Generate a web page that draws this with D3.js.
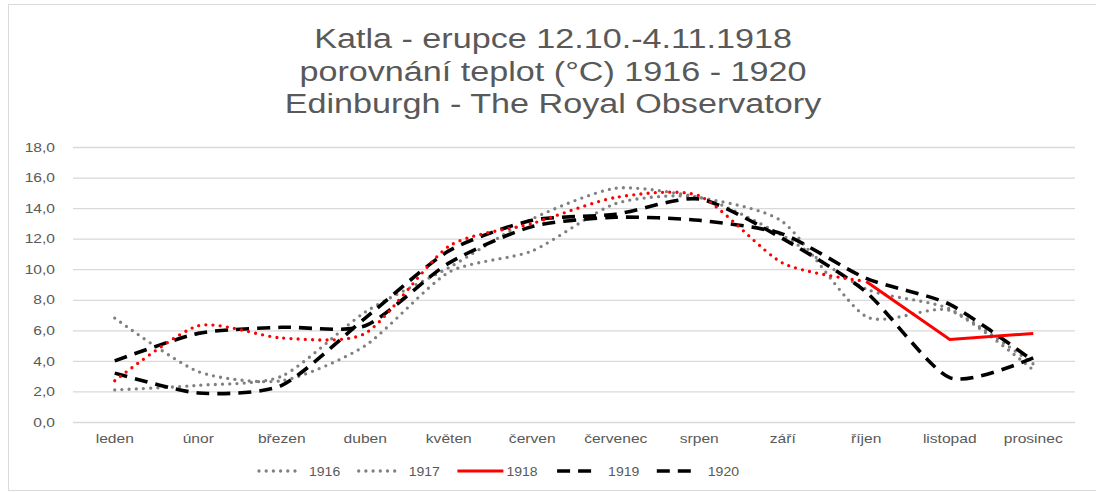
<!DOCTYPE html>
<html>
<head>
<meta charset="utf-8">
<script src="https://cdn.jsdelivr.net/npm/d3@7"></script>
<style>
  body { margin: 0; background: #fff; }
  svg { display: block; }
  text { font-family: "Liberation Sans", Arial, sans-serif; fill: #595959; }
</style>
</head>
<body>
<svg id="chart" width="1096" height="492"></svg>
<script>
const months = ["leden", "únor", "březen", "duben", "květen", "červen", "červenec", "srpen", "září", "říjen", "listopad", "prosinec"];
const t1916 = [6.8, 3.3, 2.7, 5.0, 9.8, 11.2, 14.3, 14.7, 12.2, 8.7, 7.4, 3.8];
const t1917 = [2.1, 2.4, 3.0, 7.2, 10.1, 13.3, 15.3, 14.7, 13.1, 6.9, 7.3, 3.4];
const t1918 = [2.7, 6.3, 5.5, 5.8, 11.5, 13.0, 14.7, 14.8, 10.4, 9.2, 5.4, 5.8];
const t1919 = [4.0, 5.8, 6.2, 6.3, 10.4, 12.8, 13.4, 13.2, 12.3, 9.4, 7.7, 4.0];
const t1920 = [3.2, 1.9, 2.4, 6.8, 11.2, 13.2, 13.6, 14.6, 12.0, 8.5, 2.9, 4.2];
const yTicks = [0, 2, 4, 6, 8, 10, 12, 14, 16, 18];
const titleLines = ["Katla - erupce 12.10.-4.11.1918", "porovnání teplot (°C) 1916 - 1920", "Edinburgh - The Royal Observatory"];
const eruptionIndex = 9; // from říjen on 1918 is drawn solid

const svg = d3.select("#chart");
const margin = { top: 147, right: 21, bottom: 70, left: 73 };
const width = +svg.attr("width");
const height = +svg.attr("height");
const stretch = 1.2; // the original text is a bit wider than Liberation Sans

// chart frame
svg.append("rect")
    .attr("x", 8.5).attr("y", 4.5)
    .attr("width", width).attr("height", 486)
    .attr("fill", "none")
    .attr("stroke", "#d9d9d9");

const x = d3.scaleBand().domain(months).range([margin.left, width - margin.right]);
const y = d3.scaleLinear().domain([0, 18]).range([height - margin.bottom, margin.top]);
const cx = i => x(months[i]) + x.bandwidth() / 2;

// title
svg.append("g").selectAll("text").data(titleLines)
    .join("text")
    .attr("transform", (d, i) => `translate(553,${48 + i * 32.5}) scale(1.22,1)`)
    .attr("text-anchor", "middle")
    .attr("font-size", 28)
    .text(d => d);

// gridlines
const grid = d3.axisLeft(y).tickValues(yTicks)
    .tickSize(-(width - margin.left - margin.right))
    .tickFormat(d => d3.format(".1f")(d).replace(".", ","))
    .tickPadding(18);
const gy = svg.append("g")
    .attr("transform", `translate(${margin.left},0)`)
    .call(grid);
gy.select(".domain").remove();
gy.selectAll(".tick line").attr("stroke", "#d9d9d9").attr("stroke-width", 1.3);
gy.selectAll(".tick text")
    .attr("font-size", 13)
    .attr("fill", "#595959")
    .attr("x", -18 / stretch)
    .attr("transform", `scale(${stretch},1)`);

// x axis labels
const gx = svg.append("g")
    .attr("transform", `translate(0,${height - margin.bottom})`)
    .call(d3.axisBottom(x).tickSize(0).tickPadding(12));
gx.select(".domain").remove();
gx.selectAll(".tick text")
    .attr("font-size", 13)
    .attr("fill", "#595959")
    .attr("transform", `scale(${stretch},1)`);

const smooth = d3.line()
    .x(d => cx(d[0]))
    .y(d => y(d[1]))
    .curve(d3.curveCardinal.tension(0.3));
const straight = d3.line()
    .x(d => cx(d[0]))
    .y(d => y(d[1]));

const dotted = { dash: "0,7.2", cap: "round", width: 3.3 };
const dashed = { dash: "13,8", cap: "butt", width: 3.6 };

const series = [
    { name: "1916", values: t1916, color: "#808080", style: dotted },
    { name: "1917", values: t1917, color: "#808080", style: dotted },
    { name: "1919", values: t1919, color: "#000000", style: dashed },
    { name: "1920", values: t1920, color: "#000000", style: dashed }
];

const lines = svg.append("g");
series.forEach(s => {
    lines.append("path")
        .datum(s.values.map((v, i) => [i, v]))
        .attr("fill", "none")
        .attr("stroke", s.color)
        .attr("stroke-width", s.style.width)
        .attr("stroke-dasharray", s.style.dash)
        .attr("stroke-linecap", s.style.cap)
        .attr("d", smooth);
});

// 1918: dotted before the eruption, solid after
const pts1918 = t1918.map((v, i) => [i, v]);
lines.append("path")
    .datum(pts1918.slice(0, eruptionIndex + 1))
    .attr("fill", "none")
    .attr("stroke", "#ff0000")
    .attr("stroke-width", dotted.width)
    .attr("stroke-dasharray", dotted.dash)
    .attr("stroke-linecap", "round")
    .attr("d", smooth);
lines.append("path")
    .datum(pts1918.slice(eruptionIndex))
    .attr("fill", "none")
    .attr("stroke", "#ff0000")
    .attr("stroke-width", 3)
    .attr("d", straight);

// legend
const legendItems = [
    { name: "1916", color: "#808080", style: dotted },
    { name: "1917", color: "#808080", style: dotted },
    { name: "1918", color: "#ff0000", style: { dash: null, cap: "butt", width: 3 } },
    { name: "1919", color: "#000000", style: dashed },
    { name: "1920", color: "#000000", style: dashed }
];
const legend = svg.append("g").attr("transform", "translate(258,471)");
const item = legend.selectAll("g").data(legendItems)
    .join("g")
    .attr("transform", (d, i) => `translate(${i * 99.7},0)`);
item.append("line")
    .attr("x1", d => d.style.cap === "round" ? 1 : 0)
    .attr("x2", d => d.name === "1918" ? 46 : 42)
    .attr("y1", 0).attr("y2", 0)
    .attr("stroke", d => d.color)
    .attr("stroke-width", d => d.style.width)
    .attr("stroke-dasharray", d => d.style.dash)
    .attr("stroke-linecap", d => d.style.cap);
item.append("text")
    .attr("transform", d => `translate(${d.name === "1918" ? 49 : 51},5) scale(1.08,1)`)
    .attr("font-size", 13)
    .text(d => d.name);
</script>
</body>
</html>
